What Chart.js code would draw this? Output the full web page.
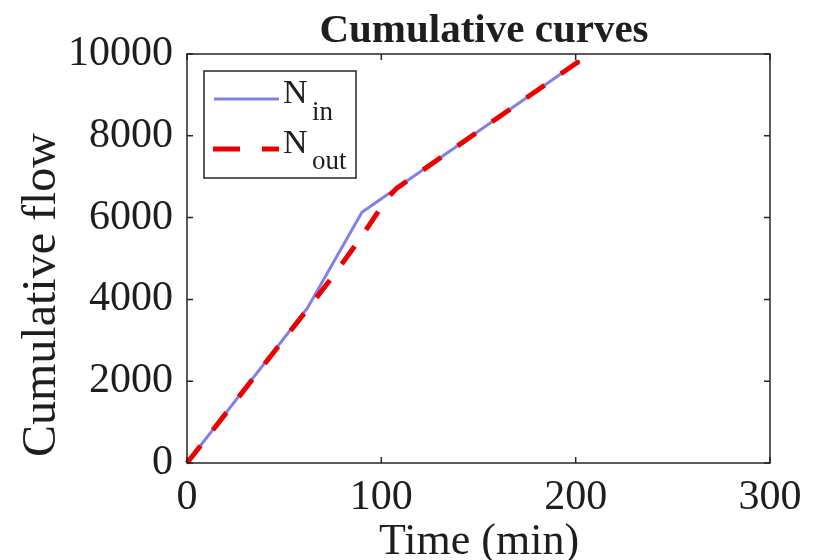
<!DOCTYPE html>
<html>
<head>
<meta charset="utf-8">
<script src="https://cdn.jsdelivr.net/npm/chart.js@4.4.0/dist/chart.umd.min.js"></script>
<style>
  html, body { margin: 0; padding: 0; background: #fff; }
</style>
</head>
<body>
<canvas id="grafico" width="817" height="560"></canvas>
<script>
// dados
const tempoEntrada = [0, 62, 90, 201];
const fluxoEntrada = [0, 3790, 6130, 9800];
const tempoSaida = [0, 62, 75, 88, 100, 104, 108, 201];
const fluxoSaida = [0, 3760, 4560, 5410, 6260, 6520, 6720, 9800];
const ticksX = [0, 100, 200, 300];
const ticksY = [0, 2000, 4000, 6000, 8000, 10000];

const corEntrada = "rgb(128,128,232)";
const corSaida = "rgb(236,0,0)";
const corTexto = "#1e1e1e";
const fonte = "Liberation Serif";

function pares(xs, ys) {
  return xs.map((x, i) => ({ x, y: ys[i] }));
}

// caixa, ticks internos, titulos e legenda no estilo MATLAB
const moldura = {
  id: "moldura",
  afterDraw(chart) {
    const ctx = chart.ctx;
    const a = chart.chartArea;
    const sx = chart.scales.x;
    const sy = chart.scales.y;
    ctx.save();
    ctx.strokeStyle = "#262626";
    ctx.lineWidth = 1.5;
    ctx.strokeRect(a.left, a.top, a.right - a.left, a.bottom - a.top);

    ctx.beginPath();
    ticksX.forEach(v => {
      const px = sx.getPixelForValue(v);
      ctx.moveTo(px, a.bottom); ctx.lineTo(px, a.bottom - 6);
      ctx.moveTo(px, a.top); ctx.lineTo(px, a.top + 6);
    });
    ticksY.forEach(v => {
      const py = sy.getPixelForValue(v);
      ctx.moveTo(a.left, py); ctx.lineTo(a.left + 6, py);
      ctx.moveTo(a.right, py); ctx.lineTo(a.right - 6, py);
    });
    ctx.stroke();

    // titulo
    ctx.fillStyle = corTexto;
    ctx.textAlign = "center";
    ctx.textBaseline = "alphabetic";
    ctx.font = "bold 41px " + fonte;
    ctx.fillText("Cumulative curves", 484, 42);

    // eixo x
    ctx.font = "44px " + fonte;
    ctx.fillText("Time (min)", 479, 554);

    // eixo y
    ctx.save();
    ctx.translate(55, 295);
    ctx.rotate(-Math.PI / 2);
    ctx.font = "48px " + fonte;
    ctx.fillText("Cumulative flow", 0, 0);
    ctx.restore();

    // legenda
    ctx.fillStyle = "#fff";
    ctx.fillRect(204, 71, 152, 107);
    ctx.strokeStyle = "#262626";
    ctx.lineWidth = 1.5;
    ctx.strokeRect(204, 71, 152, 107);

    ctx.strokeStyle = corEntrada;
    ctx.lineWidth = 3;
    ctx.beginPath();
    ctx.moveTo(214, 99); ctx.lineTo(279, 99);
    ctx.stroke();

    ctx.strokeStyle = corSaida;
    ctx.lineWidth = 5;
    ctx.setLineDash([27, 22]);
    ctx.beginPath();
    ctx.moveTo(213, 149); ctx.lineTo(279, 149);
    ctx.stroke();
    ctx.setLineDash([]);

    ctx.fillStyle = corTexto;
    ctx.textAlign = "left";
    ctx.font = "34px " + fonte;
    ctx.fillText("N", 283, 103);
    ctx.fillText("N", 283, 153);
    ctx.font = "27px " + fonte;
    ctx.fillText("in", 312, 120);
    ctx.fillText("out", 312, 169);
    ctx.restore();
  }
};

const ctx = document.getElementById("grafico").getContext("2d");
new Chart(ctx, {
  type: "scatter",
  data: {
    datasets: [
      {
        label: "N_in",
        data: pares(tempoEntrada, fluxoEntrada),
        showLine: true,
        borderColor: corEntrada,
        borderWidth: 3,
        pointRadius: 0,
        tension: 0,
        order: 2,
      },
      {
        label: "N_out",
        data: pares(tempoSaida, fluxoSaida),
        showLine: true,
        borderColor: corSaida,
        backgroundColor: corSaida,
        borderWidth: 5,
        borderDash: [22, 20],
        pointRadius: tempoSaida.map((t, i) => (i === tempoSaida.length - 1 ? 2.5 : 0)),
        pointBorderWidth: 0,
        tension: 0,
        clip: false,
        order: 1,
      },
    ],
  },
  options: {
    responsive: false,
    animation: false,
    devicePixelRatio: 1,
    layout: { padding: { top: 54, right: 47, left: 0, bottom: 0 } },
    plugins: {
      legend: { display: false },
      title: { display: false },
      tooltip: { enabled: false },
    },
    scales: {
      x: {
        type: "linear",
        min: 0,
        max: 300,
        afterBuildTicks: s => { s.ticks = ticksX.map(v => ({ value: v })); },
        afterFit: s => { s.height = 97; },
        grid: { display: false, drawTicks: false },
        border: { display: false },
        ticks: {
          padding: 10,
          color: corTexto,
          font: { family: fonte, size: 42 },
          maxRotation: 0,
          callback: v => String(v),
        },
      },
      y: {
        type: "linear",
        min: 0,
        max: 10000,
        afterBuildTicks: s => { s.ticks = ticksY.map(v => ({ value: v })); },
        afterFit: s => { s.width = 187; },
        grid: { display: false, drawTicks: false },
        border: { display: false },
        ticks: {
          padding: 14,
          color: corTexto,
          font: { family: fonte, size: 42 },
          callback: v => String(v),
        },
      },
    },
  },
  plugins: [moldura],
});
</script>
</body>
</html>
